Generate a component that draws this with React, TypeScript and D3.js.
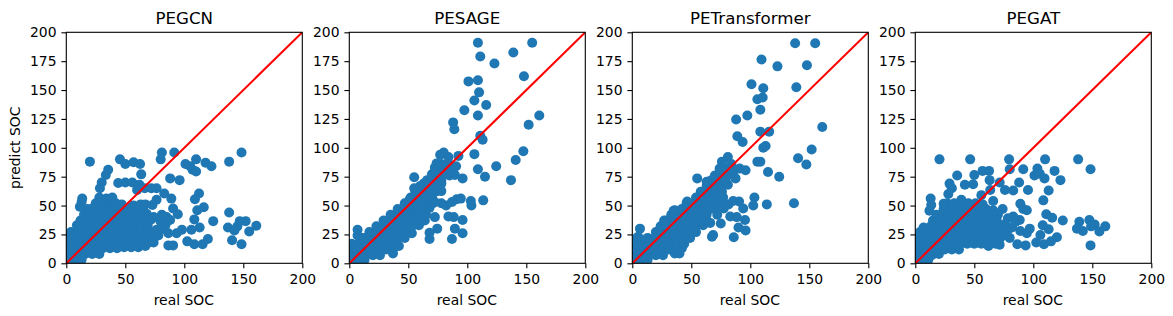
import React, { useEffect, useRef } from 'react';
import * as d3 from 'd3';

type Pt = [number, number];

const titles = ['PEGCN', 'PESAGE', 'PETransformer', 'PEGAT'];
const ticks = [0, 25, 50, 75, 100, 125, 150, 175, 200];
const xTicks = [0, 50, 100, 150, 200];

const pegcnCloud: Pt[] = [
  [1,3],[7,3],[13,3],
  [4,8],[10,8],[16,8],[22,8],[28,8],
  [1,13],[7,13],[13,13],[19,13],[25,13],[31,13],[37,13],[43,13],[49,14],[55,14],[61,14],[67,15],
  [4,18],[10,18],[16,18],[22,18],[28,18],[34,18],[40,18],[46,18],[52,18],[58,18],[64,18],[70,18],
  [1,23],[7,23],[13,23],[19,23],[25,23],[31,23],[37,23],[43,23],[49,23],[55,23],[61,23],[67,23],[73,23],
  [4,27],[10,28],[16,28],[22,28],[28,28],[34,28],[40,28],[46,28],[52,28],[58,28],[64,28],[70,28],
  [9,33],[15,33],[21,33],[27,33],[33,33],[39,33],[45,33],[51,33],[57,33],[63,33],[69,33],
  [12,37],[18,38],[24,38],[30,38],[36,38],[42,38],[48,38],[54,38],[60,38],[66,38],[72,38],
  [15,42],[21,43],[27,43],[33,43],[39,43],[45,43],[51,43],[57,43],[63,43],[68,43],
  [18,47],[23,48],[29,48],[35,48],[41,48],[47,48],[53,48],[59,48],[65,48],
  [25,52],[30,53],[36,53],[42,52],[47,51],[57,50],[63,51],[67,51],
  [28,57],[34,56],[39,57],
];
const pegcnOutliers: Pt[] = [
  [20,88],[45.5,90],[50,86],[57,87.5],[62.5,86],[63.5,77],[35.5,81],[33.5,76.5],[30,70],[28.5,65],
  [44,69.5],[50,70],[56,70],[62,68],[60,63.5],[66.5,65],[72,65],[76.5,65],[81,96],[80,90],[91.5,96],
  [88,73.5],[96,72],[101,86],[105,84],[107,81],[110,79.5],[110,90],[118,87],[123,84],[138,88],[148.5,96],
  [83,60.5],[89,56],[112.5,60.5],[109,55.5],[116.5,48.5],[111,46],[90.5,47.5],[94.5,42.5],[138,44],
  [108.5,38],[124.5,36.5],[113,31],[106,29],[137,31],[152,36.5],[147,36.5],[145,32],[142.5,28.5],
  [161,32.5],[155,27.5],[140.5,20],[148.5,16.5],[120,21],[115.5,16.5],[108.5,16.5],[102.5,19],
  [86.5,15.5],[90.5,15.5],[98,29],[93.5,26],[86.5,26],[88,37.5],[81,42],[76.5,29],[82,30],[74,40],
  [76.5,55],[73,50.5],[13.5,56],[11.5,49],[13,53],[80,36],[85,40],[78,24],[84,33],[74,18],
];

const pesageCloud: Pt[] = [
  [1,2],[7,2],[13,3],
  [2,7],[8,7],[14,7],[20,7],[26,7],
  [1,12],[7,12],[13,12],[19,12],[25,12],[31,12],[37,12],
  [2,17],[8,17],[14,17],[20,17],[26,17],[32,17],[38,17],[42,15],
  [11,22],[17,22],[23,22],[29,22],[35,22],[41,22],[47,22],
  [17,27],[23,27],[29,27],[35,27],[41,27],[47,27],[53,26],
  [23,32],[29,32],[35,32],[41,32],[47,32],[53,32],[59,33],
  [29,37],[35,37],[41,37],[47,37],[53,37],[59,37],[64,37],
  [35,42],[41,42],[47,42],[53,42],[59,42],[65,42],
  [41,47],[47,47],[53,47],[59,47],[65,47],[68,48],
  [47,52],[53,52],[59,52],[65,52],[71,52],
  [52,57],[58,57],[64,57],[70,57],
  [56,62],[62,62],[68,62],[73,62],
  [60,67],[66,67],[72,67],[76,67],
  [66,72],[72,72],[78,72],
  [70,77],[76,77],[81,78],
  [73,82],[79,82],[85,82],
];
const pesageOutliers: Pt[] = [
  [109,191],[155,191],[111,179],[139,182.5],[123,173],[148,162],[101,157.5],[109,158.5],[110,148],
  [106,141],[116,137],[97.5,132.5],[109,128],[161,128],[152,120],[88,122],[89,116],[111,110.5],[113,107],
  [92.5,93],[106,94.5],[147.5,97],[141,89.5],[90.5,84],[109,81.5],[124.5,84],[115,75],[137,72],[96,73.5],
  [89.5,76.5],[85,76],[55,74.5],[55,65],[80,96],[77,94],[84,92],[74,86.5],[72.5,83],[78,86],[84,86.5],
  [81,78],[78,69],[78,62.5],[71,68],[63,69],[72.5,53],[78,52],[82,50],[87,53],[91,55.5],[94.5,56],
  [103,54],[103.5,50],[113.5,54.5],[84,40.5],[88.5,40],[96,37.5],[72.5,40],[74.5,30],[68,26.5],[68,21],
  [89.5,30],[96,26],[87,21],[7,29],[7,24],[12,22],[37,8.5],[47,50],[51,55],[46,43],
];

const petransCloud: Pt[] = [
  [1,2],[7,2],[13,3],
  [2,7],[8,7],[14,7],[20,7],[26,7],
  [1,12],[7,12],[13,12],[19,12],[25,12],[31,12],[37,12],[42,13],
  [2,17],[8,17],[14,17],[20,17],[26,17],[32,17],[38,17],[44,17],
  [4,22],[13,22],[19,22],[25,22],[31,22],[37,22],[43,22],[49,22],
  [20,27],[26,27],[32,27],[38,27],[44,27],[50,27],[54,27],
  [24,32],[30,32],[36,32],[42,32],[48,32],[54,32],[60,33],
  [29,37],[35,37],[41,37],[47,37],[53,37],[59,37],[64,36],
  [33,42],[39,42],[45,42],[51,42],[57,42],[63,42],
  [36,46],[42,47],[48,47],[54,47],[60,47],[66,47],[71,47],
  [46,52],[52,52],[58,52],[64,52],[70,52],[76,52],
  [54,57],[60,57],[66,57],[72,57],[77,57],
  [58,62],[64,62],[70,62],[76,62],
  [63,67],[69,67],[75,67],[81,68],
  [67,72],[73,72],[79,72],
  [70,76],[76,77],[82,77],
  [74,82],[80,82],[86,80],
];
const petransOutliers: Pt[] = [
  [138,190.5],[155,190.5],[109.5,176.5],[123,170.5],[148,171.5],[101,155],[111,151.5],[139,152.5],
  [106,142],[110.5,143.5],[108.5,133],[97.5,128],[88,124.5],[161,118],[108.5,114],[116,114],[89,110],
  [93.5,105],[152,98.5],[113,101.5],[111,100],[140.5,91],[147.5,85.5],[106,88],[108.5,88],[91,82],
  [96,80.5],[115,79],[124.5,75],[87.5,73.5],[55,73.5],[81,92],[76,88],[84,86],[137,52],[114,51],
  [103.5,57],[102.5,50],[94,47.5],[90.5,53.5],[85.5,54],[81.5,51],[77.5,47.5],[95.5,37.5],[83,40.5],
  [88.5,40],[90,31],[96,28.5],[86,22.5],[68.5,24.5],[67.5,23],[75,34.5],[72,42],[66,35],[40,8.5],
  [36,8.5],[6.5,30],[5,23],[35,45.5],[46.5,53.5],[63,70.5],[27,37],
];

const pegatCloud: Pt[] = [
  [1,2],[7,2],[11,3],
  [2,7],[8,7],[14,7],[20,8],
  [1,12],[7,12],[13,12],[19,12],[25,12],[31,12],[37,12],
  [2,17],[8,17],[14,17],[20,17],[26,17],[32,17],[38,17],[44,17],[50,17],[56,17],[62,15],[68,17],
  [1,22],[7,22],[13,22],[19,22],[25,22],[31,22],[37,22],[43,22],[49,22],[55,22],[61,22],[67,22],[72,22],
  [4,27],[10,27],[16,27],[22,27],[28,27],[34,27],[40,27],[46,27],[52,27],[58,27],[64,27],[70,27],
  [7,31],[13,32],[19,32],[25,32],[31,32],[37,32],[43,32],[49,32],[55,32],[61,32],[67,32],[72,32],
  [15,37],[21,37],[27,37],[33,37],[39,37],[45,37],[51,37],[57,37],[63,37],[69,37],
  [18,42],[24,42],[30,42],[36,42],[42,42],[48,42],[54,42],[60,42],[66,42],
  [24,47],[30,47],[36,47],[42,47],[48,47],[54,47],[60,47],[66,46],
  [27,52],[33,52],[39,52],[45,52],[51,52],[57,51],
];
const pegatOutliers: Pt[] = [
  [20.5,90],[46.5,90],[79.5,90],[110,90],[138,90],[148.5,81.5],[80,81.5],[91.5,81.5],[57,80],[62.5,80],
  [50,76.5],[35.5,76],[103.5,82],[101,76],[105.5,77.5],[109.5,73.5],[118,80],[123,72],[88,70],[95.5,63.5],
  [113,63],[108.5,54.5],[83,63],[76,63.5],[71.5,70],[63,72],[29,69],[31,65],[28,60],[42,68],[49,68.5],
  [56,59],[63.5,63.5],[66,54],[74,47],[89,51.5],[91.5,47],[94.5,46],[13,56],[13.5,50.5],[12,45.5],[24,51.5],
  [39,55],[111,42.5],[116,39.5],[125,37],[139,36],[147.5,37.5],[152,33.5],[161,32],[156,27.5],[137,30],
  [142,28],[149,32],[148.5,15.5],[120,22.5],[115,19],[109,16.5],[102.5,18],[106,24.5],[108,33],[113,29.5],
  [97,30],[94.5,26],[93.5,15.5],[86.5,16.5],[88.5,37.5],[78.5,39],[83,40.5],[78.5,29],[71.5,16],[82,31],
  [89,28],[80,22],[76,34],[70,42],[75,25],[85,36],
];

const panelPoints: Pt[][] = [
  [...pegcnCloud, ...pegcnOutliers],
  [...pesageCloud, ...pesageOutliers],
  [...petransCloud, ...petransOutliers],
  [...pegatCloud, ...pegatOutliers],
];

const fontFamily = '"DejaVu Sans", sans-serif';
const plotTop = 32.3;
const plotBottom = 263.3;
const plotWidth = 236;
const panelLefts = [66.3, 349.3, 632.3, 915.3];
const diagonal: Pt[] = [[0, 0], [200, 200]];

const Panel = ({ index }: { index: number }) => {
  const xRef = useRef<SVGGElement>(null);
  const yRef = useRef<SVGGElement>(null);
  const x = d3.scaleLinear().domain([0, 200]).range([0, plotWidth]);
  const y = d3.scaleLinear().domain([0, 200]).range([plotBottom - plotTop, 0]);
  const line = d3.line<Pt>().x(d => x(d[0])).y(d => y(d[1]));

  useEffect(() => {
    const style = (g: d3.Selection<SVGGElement, unknown, null, undefined>) => {
      g.attr('font-size', 13.9).attr('font-family', fontFamily);
      g.selectAll('text').attr('fill', '#000');
      g.selectAll('line').attr('stroke', '#000').attr('stroke-width', 1.1);
      g.select('.domain').remove();
    };
    d3.select(xRef.current!)
      .call(d3.axisBottom(x).tickValues(xTicks).tickFormat(d3.format('d') as any).tickSizeOuter(0).tickSize(4.9).tickPadding(6))
      .call(style);
    d3.select(yRef.current!)
      .call(d3.axisLeft(y).tickValues(ticks).tickFormat(d3.format('d') as any).tickSizeOuter(0).tickSize(4.9).tickPadding(4.9))
      .call(style);
  }, []);

  const clipId = `clip-${index}`;
  return (
    <g transform={`translate(${panelLefts[index]},${plotTop})`}>
      <clipPath id={clipId}>
        <rect width={plotWidth} height={plotBottom - plotTop} />
      </clipPath>
      <g clipPath={`url(#${clipId})`}>
        {panelPoints[index].map((d, i) => (
          <circle key={i} cx={x(d[0])} cy={y(d[1])} r={5} fill="#1f77b4" />
        ))}
        <path d={line(diagonal)!} stroke="#ff0000" strokeWidth={2.08} fill="none" />
      </g>
      <rect width={plotWidth} height={plotBottom - plotTop} fill="none" stroke="#000" strokeWidth={1.1} />
      <g ref={xRef} transform={`translate(0,${plotBottom - plotTop})`} />
      <g ref={yRef} />
      <text x={plotWidth / 2} y={-8} textAnchor="middle" fontSize={16.67} fontFamily={fontFamily}>{titles[index]}</text>
      <text x={plotWidth / 2 - 0.5} y={272.5} textAnchor="middle" fontSize={13.9} fontFamily={fontFamily}>real SOC</text>
      {index === 0 && (
        <text transform={`translate(-46,${(plotBottom - plotTop) / 2}) rotate(-90)`} textAnchor="middle" fontSize={13.9} fontFamily={fontFamily}>predict SOC</text>
      )}
    </g>
  );
};

export default function App() {
  return (
    <>
      <style>{'body{margin:0;background:#fff}'}</style>
      <svg width={1173} height={316} style={{ display: 'block' }}>
        <rect width={1173} height={316} fill="#fff" />
        {titles.map((_, i) => <Panel key={i} index={i} />)}
      </svg>
    </>
  );
}
